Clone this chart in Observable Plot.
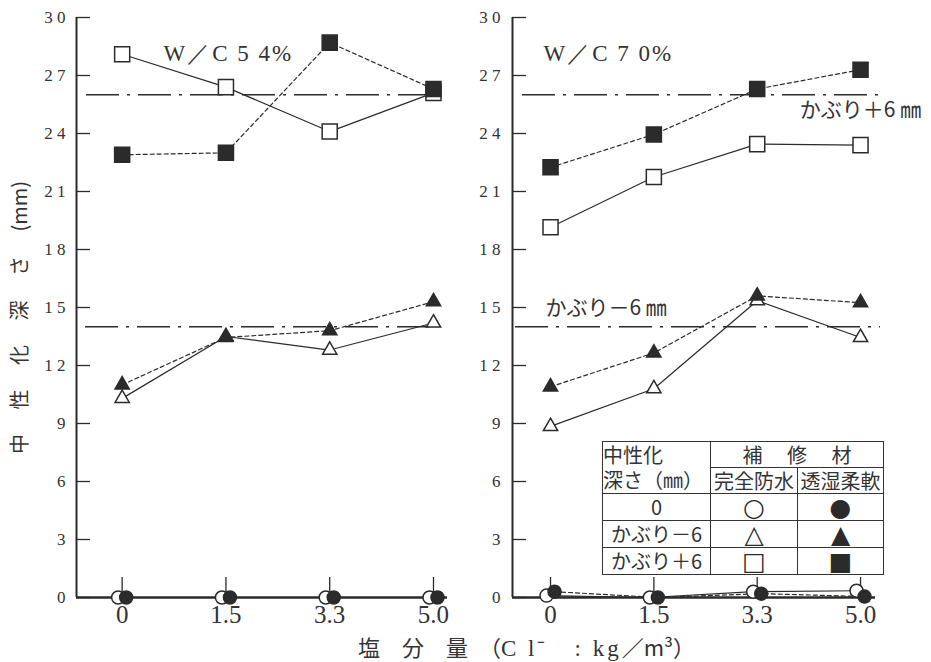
<!DOCTYPE html>
<html>
<head>
<meta charset="utf-8">
<script src="https://cdn.jsdelivr.net/npm/d3@7"></script>
<script src="https://cdn.jsdelivr.net/npm/@observablehq/plot@0.6"></script>
<style>
  html, body { margin: 0; padding: 0; background: #fff; }
  #chart { position: relative; width: 931px; height: 662px; overflow: hidden;
           font-family: "Noto Sans CJK JP", sans-serif; color: #333; }
  #chart svg { position: absolute; top: 0; }
  #xlabel { position: absolute; left: 358px; top: 635px; font-size: 22px; line-height: 22px; white-space: pre; }
  #xlabel .lat { font-family: "Liberation Serif", serif; font-size: 23px; letter-spacing: 3px; }
  #key { position: absolute; left: 602px; top: 441px; border-collapse: collapse;
         font-size: 20px; line-height: 1; color: #333; }
  #key td { border: 1.5px solid #333; padding: 0; white-space: nowrap; height: 25px; }
  #key td.c { text-align: center; }
  #key td.sym { text-align: center; font-family: "DejaVu Sans", sans-serif; font-size: 25px; color: #2b2b2b; }
</style>
</head>
<body>
<div id="chart"></div>
<script>
// x categories: chloride content (kg/m3)
const categories = ["0", "1.5", "3.3", "5.0"];
const yTicks = [0, 3, 6, 9, 12, 15, 18, 21, 24, 27, 30];
// cover depth ± 6 mm reference levels
const refLines = [26, 14];
const panelTitles = ["W／C 5 4%", "W／C 7 0%"];
const refLabels = ["かぶり＋6 ㎜", "かぶり－6 ㎜"];

// W/C 54 %
const wc54OpenCircle   = [0, 0, 0, 0];
const wc54FillCircle   = [0, 0, 0, 0];
const wc54OpenTriangle = [10.3, 13.5, 12.8, 14.2];
const wc54FillTriangle = [11.0, 13.45, 13.8, 15.3];
const wc54OpenSquare   = [28.1, 26.4, 24.1, 26.1];
const wc54FillSquare   = [22.9, 23.0, 28.7, 26.3];

// W/C 70 %
const wc70OpenCircle   = [0.1, 0, 0.3, 0.35];
const wc70FillCircle   = [0.3, 0, 0.2, 0.05];
const wc70OpenTriangle = [8.85, 10.8, 15.35, 13.45];
const wc70FillTriangle = [10.9, 12.65, 15.6, 15.25];
const wc70OpenSquare   = [19.15, 21.75, 23.45, 23.4];
const wc70FillSquare   = [22.25, 23.95, 26.3, 27.3];

// legend table contents
const keyDepths = ["0", "かぶり－6", "かぶり＋6"];
const keyOpen = ["○", "△", "□"];
const keyFill = ["●", "▲", "■"];

const ink = "#2b2b2b";
const serif = "'Liberation Serif', 'DejaVu Serif', serif";
const jp = "'Noto Sans CJK JP', sans-serif";

// marker styles: open = 完全防水 (solid line), filled = 透湿柔軟 (dashed line)
function seriesOf(oc, fc, ot, ft, os, fs) {
  return [
    {values: oc, symbol: "circle",   filled: false, r: 6.5, dx: -4},
    {values: ot, symbol: "triangle", filled: false, r: 5.3, dx: 0},
    {values: os, symbol: "square",   filled: false, r: 8.5, dx: 0},
    {values: fc, symbol: "circle",   filled: true,  r: 6.5, dx: 4},
    {values: ft, symbol: "triangle", filled: true,  r: 5.3, dx: 0},
    {values: fs, symbol: "square",   filled: true,  r: 8.5, dx: 0}
  ];
}

function panel(cfg) {
  const rows = s => s.values.map((v, i) => ({i, v}));
  const marks = [];
  refLines.forEach((r, k) => marks.push(Plot.ruleY([r], {
    stroke: ink, strokeWidth: 1.5, strokeDasharray: "33,8,3,8",
    insetLeft: cfg.refInsets[k][0], insetRight: cfg.refInsets[k][1]
  })));
  // axis lines
  marks.push(Plot.ruleX([cfg.xDomain[0]], {stroke: ink, strokeWidth: 2}));
  marks.push(Plot.ruleY([0], {stroke: ink, strokeWidth: 2.5, insetRight: cfg.baseInset}));
  // inward tick marks
  marks.push(Plot.axisY({ticks: yTicks, tickSize: -14, tickFormat: () => "", label: null, stroke: ink, strokeWidth: 1.3}));
  marks.push(Plot.axisX({ticks: [0, 1, 2, 3], tickSize: -20, tickFormat: () => "", label: null, stroke: ink, strokeWidth: 1.3}));
  // tick labels
  marks.push(Plot.axisY({ticks: yTicks, tickSize: 0, tickPadding: cfg.yPad, label: null,
    tickFormat: d => String(d).split("").join(" "),
    fontSize: 17, fontFamily: serif, fill: "#333"}));
  marks.push(Plot.axisX({ticks: [0, 1, 2, 3], tickSize: 0, tickPadding: 8, label: null,
    tickFormat: i => categories[i], fontSize: 25, fontFamily: serif, fill: "#333"}));
  // connecting lines
  for (const s of cfg.series) {
    marks.push(Plot.line(rows(s), {x: "i", y: "v", stroke: ink, strokeWidth: 1.2,
      strokeDasharray: s.filled ? "4,3" : null, dx: s.dx}));
  }
  // markers
  for (const s of cfg.series) {
    marks.push(Plot.dot(rows(s), {x: "i", y: "v", symbol: s.symbol, r: s.r, dx: s.dx,
      fill: s.filled ? ink : "white", stroke: ink, strokeWidth: 1.5}));
  }
  // panel title
  marks.push(Plot.text([cfg.title], {frameAnchor: "top-left", textAnchor: "start",
    dx: cfg.titleDx, dy: 27, text: d => d, fontSize: 23, fontFamily: serif, fill: "#333"}));
  if (cfg.extra) marks.push(...cfg.extra);
  return Plot.plot({
    width: cfg.width, height: 662,
    marginTop: 17, marginBottom: 65, marginLeft: cfg.marginLeft, marginRight: cfg.marginRight,
    x: {type: "linear", domain: cfg.xDomain},
    y: {domain: [0, 30]},
    style: {background: "transparent", color: ink, fontFamily: serif},
    marks
  });
}

const left = panel({
  title: panelTitles[0], titleDx: 87,
  width: 460, marginLeft: 76, marginRight: 13, xDomain: [-0.44, 3.135],
  refInsets: [[10, 10], [9, 10]], baseInset: 0, yPad: 11,
  series: seriesOf(wc54OpenCircle, wc54FillCircle, wc54OpenTriangle, wc54FillTriangle, wc54OpenSquare, wc54FillSquare),
  extra: [
    Plot.text(["中　 性　 化　 深　 さ　 (mm)"], {frameAnchor: "left", textAnchor: "middle", rotate: -90,
      dx: -56, dy: 10, text: d => d, fontSize: 20, fontFamily: jp, fill: "#333"})
  ]
});

const right = panel({
  title: panelTitles[1], titleDx: 31,
  width: 491, marginLeft: 72, marginRight: 47, xDomain: [-0.368, 3.232],
  refInsets: [[10, 1], [3, 4]], baseInset: 9, yPad: 12,
  series: seriesOf(wc70OpenCircle, wc70FillCircle, wc70OpenTriangle, wc70FillTriangle, wc70OpenSquare, wc70FillSquare),
  extra: [
    Plot.text([refLines[0]], {x: 3, y: d => d, dy: 15, text: () => refLabels[0],
      textAnchor: "middle", fontSize: 21, fontFamily: jp, fill: "#333"}),
    Plot.text([refLines[1]], {frameAnchor: "left", y: d => d, dx: 33, dy: -19, text: () => refLabels[1],
      textAnchor: "start", fontSize: 21, fontFamily: jp, fill: "#333"})
  ]
});

// slightly wider letter spacing for the panel titles
for (const svg of [left, right]) {
  svg.querySelectorAll("text").forEach(t => {
    if (panelTitles.includes(t.textContent)) t.setAttribute("letter-spacing", "2");
  });
}

const chart = document.getElementById("chart");
left.style.left = "0px";
right.style.left = "440px";
chart.appendChild(left);
chart.appendChild(right);

// x-axis title spanning both panels
const xl = document.createElement("div");
xl.id = "xlabel";
xl.innerHTML = '塩　分　量　（<span class="lat">C l⁻　: kg</span>／m³）';
chart.appendChild(xl);

// legend table
const tbl = document.createElement("table");
tbl.id = "key";
let html = '<colgroup><col style="width:108px"><col style="width:87px"><col style="width:86px"></colgroup>';
html += '<tr><td rowspan="2" style="vertical-align:top;line-height:25px">中性化<br>深さ（㎜）</td>' +
        '<td colspan="2" class="c">補　 修　 材</td></tr>';
html += '<tr><td class="c">完全防水</td><td class="c">透湿柔軟</td></tr>';
keyDepths.forEach((d, k) => {
  html += `<tr><td class="c" style="height:26px">${d}</td><td class="sym">${keyOpen[k]}</td><td class="sym">${keyFill[k]}</td></tr>`;
});
tbl.innerHTML = html;
chart.appendChild(tbl);
</script>
</body>
</html>
